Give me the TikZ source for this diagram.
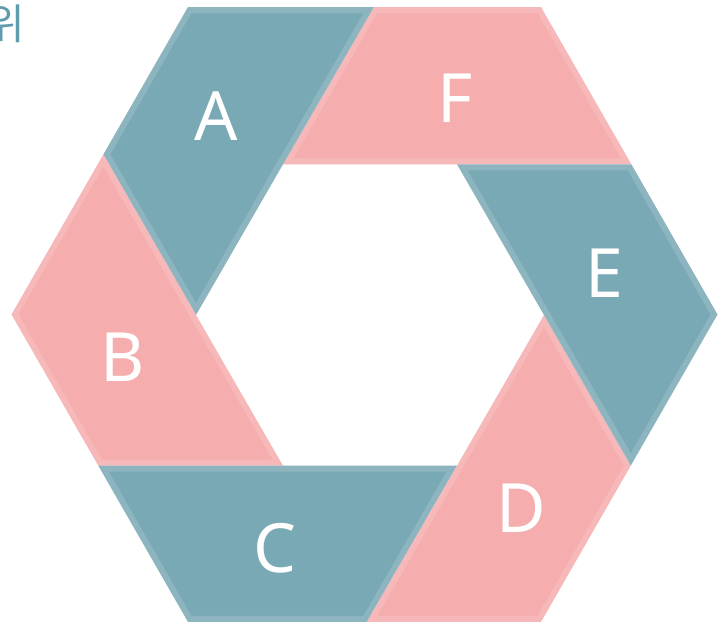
\documentclass[tikz,border=0pt]{standalone}
\usepackage{fontspec}
\usepackage{xcolor}
\usepackage{tikz}
\usetikzlibrary{
  calc,
  positioning
}
\newfontfamily\lblfont{Noto Sans}
\newfontfamily\krfont{Noto Sans CJK KR}

\definecolor{ringteal}{HTML}{7AA9B6}
\definecolor{ringpink}{HTML}{F5ADAE}
\definecolor{titleteal}{HTML}{5F9DAE}

\begin{document}
\begin{tikzpicture}[
  x=1pt, y=1pt,
  seglabel/.style={
    text=white, inner sep=0pt,
    font=\lblfont\fontsize{68}{70}\selectfont
  },
  bevel/.style={
    line width=12pt, draw=white, draw opacity=0.14, line join=miter
  }
]
  \useasboundingbox (0,0) rectangle (718,625);

  % centres of the two hexagons
  \coordinate (oc) at (364.5,310.5);
  \coordinate (ic) at (370,310);
  \foreach \a in {0,60,...,300} {
    \coordinate (o\a) at ($(oc)+(\a:353 and 355)$);
    \coordinate (i\a) at ($(ic)+(\a:174)$);
  }

  % one segment per outer corner
  \foreach \a/\b/\c/\d/\col in {60/120/180/0/ringpink,
                                120/180/240/60/ringteal,
                                180/240/300/120/ringpink,
                                240/300/0/180/ringteal,
                                300/0/60/240/ringpink,
                                0/60/120/300/ringteal} {
    \coordinate (p\a) at (intersection of {i\c}--{i\b} and {o\a}--{o\b});
    \coordinate (q\a) at (intersection of {i\b}--{i\a} and {o\d}--{o\a});
    \fill[\col] (p\a) -- (o\a) -- (q\a) -- (i\b) -- cycle;
    \begin{scope}
      \clip (p\a) -- (o\a) -- (q\a) -- (i\b) -- cycle;
      \draw[bevel] (p\a) -- (o\a) -- (q\a) -- (i\b) -- cycle;
    \end{scope}
  }

  \node[seglabel] (lblA) at (216,509) {A};
  \node[seglabel] (lblF) at (455,527) {F};
  \node[seglabel] (lblE) at (604,352) {E};
  \node[seglabel] (lblB) at (123,268) {B};
  \node[seglabel] (lblC) at (275,77)  {C};
  \node[seglabel] (lblD) at (521,117) {D};

  \node[anchor=east, inner sep=0pt, text=titleteal,
        font=\krfont\fontsize{42}{44}\selectfont] (title) at (25,601) {위};
\end{tikzpicture}
\end{document}
